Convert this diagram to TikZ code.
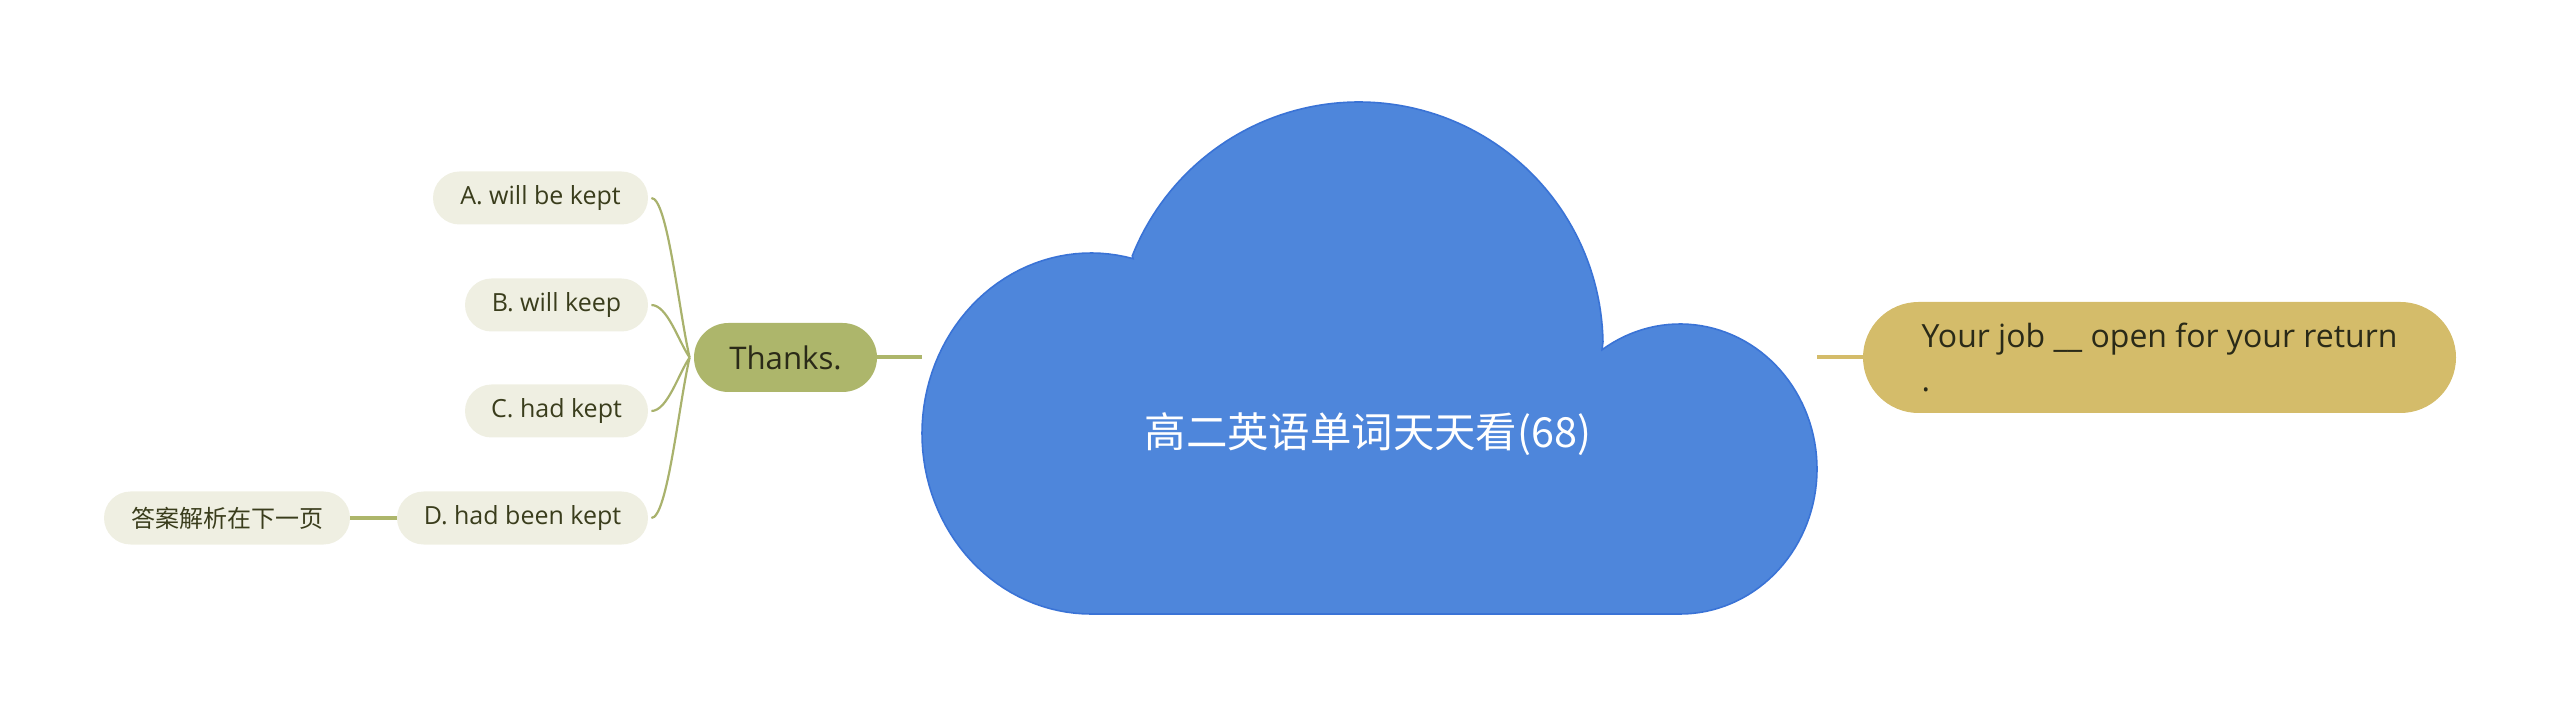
\documentclass[tikz,border=0pt]{standalone}
\usepackage{fontspec}
\setmainfont{Open Sans}
\newfontfamily\cjk{Noto Sans CJK SC}
\usetikzlibrary{calc}
\definecolor{cloudfill}{HTML}{4E86DB}
\definecolor{clouddraw}{HTML}{3A73D6}
\definecolor{olive}{HTML}{ADB66B}
\definecolor{oliveline}{HTML}{A9B26D}
\definecolor{leaf}{HTML}{EFEFE2}
\definecolor{leaftext}{HTML}{3A3D1C}
\definecolor{gold}{HTML}{D4BC6A}
\definecolor{darktext}{HTML}{2A2A18}
\begin{document}
\begin{tikzpicture}[x=0.5pt,y=-0.5pt,
  leafbox/.style={fill=leaf, rounded corners=13.25pt, minimum height=26.5pt,
    inner sep=0pt, text=leaftext, font=\fontsize{12.5}{15}\selectfont},
  thanksbox/.style={fill=olive, rounded corners=17.25pt, minimum width=91.5pt,
    minimum height=34.5pt, inner sep=0pt, text=darktext, font=\fontsize{15.6}{19}\selectfont},
  goldbox/.style={fill=gold, rounded corners=27.75pt, minimum width=296.5pt,
    minimum height=55.5pt, inner sep=0pt, align=left, text=darktext,
    font=\fontsize{16}{22}\selectfont},
  hidden/.style={inner sep=0pt},
  titletext/.style={text=white, font=\cjk\fontsize{20.7}{24}\selectfont},
  childline/.style={draw=oliveline, line width=1.1pt},
  thickolive/.style={draw=olive, line width=2pt},
  thickgold/.style={draw=gold, line width=2pt}]
\useasboundingbox (0,0) rectangle (2560,716);
% cloud
\filldraw[fill=cloudfill, draw=clouddraw, line width=0.8pt]
  plot[domain=90:284.4, samples=70] ({1091+169*cos(\x)},{433.5+180.5*sin(\x)})
  -- plot[domain=201.7:359, samples=90] ({1359+244*cos(\x)},{346+244*sin(\x)})
  -- plot[domain=235.3:450, samples=80] ({1680+137*cos(\x)},{469+145*sin(\x)})
  -- cycle;
\node[hidden, minimum width=447.5pt, minimum height=256.5pt] (root) at (1369.5,357.5) {};
\node[titletext] (title) at (1368,434) {高二英语单词天天看(68)};
% main nodes
\node[thanksbox] (thanks) at (785.5,357.5) {Thanks.};
\node[goldbox] (q) at (2159.5,357.5) {Your job \_\_ open for your return\\.};
% children
\node[leafbox, minimum width=107.5pt] (A) at (540.5,198) {A. will be kept};
\node[leafbox, minimum width=91.5pt] (B) at (556.5,305) {B. will keep};
\node[leafbox, minimum width=91.5pt] (C) at (556.5,411) {C. had kept};
\node[leafbox, minimum width=125.5pt] (D) at (522.5,518) {D. had been kept};
\node[leafbox, minimum width=123pt, font=\cjk\fontsize{12}{15}\selectfont] (ans) at (227,518) {答案解析在下一页};
% connectors
\draw[thickolive] (thanks.east) -- (root.west);
\draw[thickgold] (root.east) -- (q.west);
\draw[thickolive] (ans.east) -- (D.west);
\coordinate (tj) at ($(thanks.west)+(-4,0)$);
\foreach \n/\dy in {A/-48,B/-16,C/16,D/48}
  \draw[childline] ($(\n.east)+(3,0)$) .. controls +(16,0) and +(-11,\dy) .. (tj);
\end{tikzpicture}
\end{document}
